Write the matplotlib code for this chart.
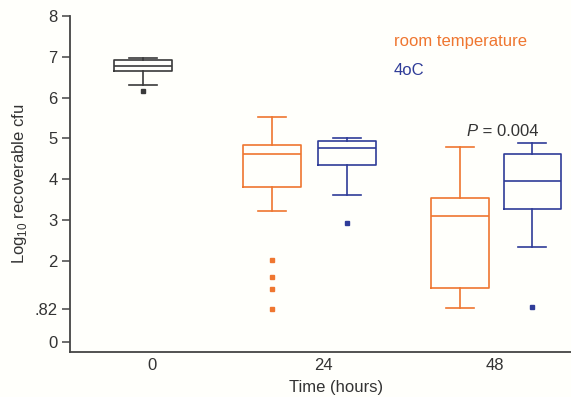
import matplotlib
matplotlib.use("Agg")
import matplotlib.pyplot as plt

plt.rcParams['font.family'] = ['Liberation Sans', 'DejaVu Sans']

# ---- data (log10 recoverable cfu) ----
time_ticks = [0, 24, 48]
time_labels = ['0', '24', '48']
y_ticks = [0, 0.82, 2, 3, 4, 5, 6, 7, 8]
y_tick_labels = ['0', '.82', '2', '3', '4', '5', '6', '7', '8']

# baseline (time 0)
base_stats = dict(whislo=6.31, q1=6.65, med=6.77, q3=6.92, whishi=6.98, fliers=[6.17])
# room temperature: 24 h, 48 h
rt_whislo = [3.21, 0.83]
rt_q1 = [3.80, 1.33]
rt_med = [4.61, 3.10]
rt_q3 = [4.83, 3.53]
rt_whishi = [5.51, 4.79]
rt_fliers = [[2.01, 1.60, 1.30, 0.82], []]
# 4oC: 24 h, 48 h
c4_whislo = [3.61, 2.32]
c4_q1 = [4.34, 3.26]
c4_med = [4.75, 3.94]
c4_q3 = [4.93, 4.61]
c4_whishi = [5.01, 4.89]
c4_fliers = [[2.91], [0.85]]

ORANGE = '#EF7630'
BLUE = '#2F3C98'
DARK = '#3a3a3a'

fig = plt.figure(figsize=(5.71, 3.97), dpi=100)
fig.patch.set_facecolor('#fffffb')
ax = fig.add_axes([70/571, 1-352/397, 1-70/571, (352-16)/397])
ax.set_facecolor('#fffffb')


def stats(wl, q1, med, q3, wh, fl):
    return [dict(whislo=a, q1=b, med=c, q3=d, whishi=e, fliers=f)
            for a, b, c, d, e, f in zip(wl, q1, med, q3, wh, fl)]


def draw(st, pos, color):
    ax.bxp(st, positions=pos, widths=8.0, capwidths=4.0,
           boxprops=dict(color=color, linewidth=1.2),
           medianprops=dict(color=color, linewidth=1.2),
           whiskerprops=dict(color=color, linewidth=1.2),
           capprops=dict(color=color, linewidth=1.2),
           flierprops=dict(marker='s', markersize=2.8, markerfacecolor=color,
                           markeredgecolor=color, linestyle='none'),
           manage_ticks=False)


draw([base_stats], [-1.26], DARK)
draw(stats(rt_whislo, rt_q1, rt_med, rt_q3, rt_whishi, rt_fliers), [16.8, 43.1], ORANGE)
draw(stats(c4_whislo, c4_q1, c4_med, c4_q3, c4_whishi, c4_fliers), [27.3, 53.2], BLUE)

ax.set_xlim(-11.47, 58.63)
ax.set_ylim(-0.245, 8.0)
ax.set_xticks(time_ticks)
ax.set_xticklabels(time_labels, fontsize=12, color='#333333')
ax.set_yticks(y_ticks)
ax.set_yticklabels(y_tick_labels, fontsize=12, color='#333333')
ax.tick_params(axis='x', length=0, pad=4)
ax.tick_params(axis='y', length=6, width=1.1, color='#444444', pad=3)

for s in ['top', 'right']:
    ax.spines[s].set_visible(False)
for s in ['left', 'bottom']:
    ax.spines[s].set_linewidth(1.3)
    ax.spines[s].set_color('#444444')

ax.set_xlabel('Time (hours)', fontsize=12, color='#333333', va='center')
ax.xaxis.set_label_coords(0.531, -0.105)
ax.set_ylabel(r'Log$_{\mathregular{10}}$ recoverable cfu', fontsize=12, color='#333333', labelpad=4)

ax.text(44.0, 5.17, 'P', fontsize=12, style='italic', color='#333333', va='center', ha='left')
ax.text(45.6, 5.17, ' = 0.004', fontsize=12, color='#333333', va='center', ha='left')

ax.text(33.8, 7.38, 'room temperature', fontsize=12, color=ORANGE, va='center', ha='left')
ax.text(33.8, 6.67, '4oC', fontsize=12, color=BLUE, va='center', ha='left')

fig.savefig('out.png', dpi=100, facecolor=fig.get_facecolor())
